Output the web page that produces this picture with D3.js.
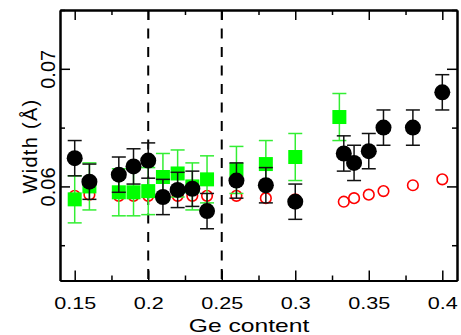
<!DOCTYPE html>
<html>
<head>
<meta charset="utf-8">
<script src="https://cdn.jsdelivr.net/npm/d3@7"></script>
<style>
  body { margin: 0; background: #fff; }
  svg text { font-family: "Liberation Sans", Arial, sans-serif; fill: #000; }
</style>
</head>
<body>
<div id="grafico"></div>
<script>
// Ge content (x) and width (y) for the three series
const blackX = [0.15, 0.16, 0.18, 0.19, 0.20, 0.21, 0.22, 0.23, 0.24, 0.26, 0.28, 0.30, 0.333, 0.34, 0.35, 0.36, 0.38, 0.40];
const blackY = [0.0624, 0.0604, 0.0610, 0.0617, 0.0622, 0.0591, 0.0597, 0.0598, 0.0579, 0.0605, 0.0601, 0.0587, 0.0628, 0.0620, 0.0630, 0.0650, 0.0650, 0.0680];
const blackErr = [0.0015, 0.0015, 0.0015, 0.0015, 0.0015, 0.0015, 0.0015, 0.0015, 0.0015, 0.0015, 0.0015, 0.0015, 0.0015, 0.0015, 0.0015, 0.0015, 0.0015, 0.0015];

const greenX = [0.15, 0.16, 0.18, 0.19, 0.20, 0.21, 0.22, 0.23, 0.24, 0.26, 0.28, 0.30, 0.33];
const greenY = [0.0589, 0.0600, 0.0595, 0.0595, 0.0596, 0.0608, 0.0611, 0.0600, 0.0606, 0.0614, 0.0619, 0.0625, 0.0659];
const greenErr = [0.002, 0.002, 0.002, 0.002, 0.002, 0.002, 0.002, 0.002, 0.002, 0.002, 0.002, 0.002, 0.002];

const redX = [0.15, 0.16, 0.18, 0.19, 0.20, 0.21, 0.22, 0.23, 0.24, 0.26, 0.28, 0.30, 0.333, 0.34, 0.35, 0.36, 0.38, 0.40];
const redY = [0.0592, 0.0593, 0.0592, 0.0592, 0.0592, 0.0592, 0.0592, 0.0592, 0.0592, 0.0592, 0.0590, 0.0589, 0.0587, 0.0590, 0.0593, 0.0596, 0.0601, 0.0606];

const dashedX = [0.20, 0.25];
const xMajor = [0.15, 0.2, 0.25, 0.3, 0.35, 0.4];
const xMinor = [0.175, 0.225, 0.275, 0.325, 0.375];
const yMajor = [0.06, 0.07];
const yMinor = [0.055, 0.065, 0.075];

const margin = { top: 10, right: 4, bottom: 54.5, left: 60 };
const width = 461 - margin.left - margin.right;
const height = 335 - margin.top - margin.bottom;

const svg = d3.select('#grafico').append('svg')
  .attr('width', 461)
  .attr('height', 335)
  .append('g')
  .attr('transform', `translate(${margin.left},${margin.top})`);

const x = d3.scaleLinear().domain([0.14, 0.41]).range([0, width]);
const y = d3.scaleLinear().domain([0.052, 0.075]).range([height, 0]);

// dashed guides
svg.selectAll('.guia')
  .data(dashedX)
  .enter().append('line')
  .attr('x1', d => x(d)).attr('x2', d => x(d))
  .attr('y1', 0).attr('y2', height)
  .attr('stroke', '#000')
  .attr('stroke-width', 2)
  .attr('stroke-dasharray', '10,8.5');

// red open circles
svg.selectAll('.rojo')
  .data(redX.map((d, i) => ({ x: d, y: redY[i] })))
  .enter().append('circle')
  .attr('cx', d => x(d.x))
  .attr('cy', d => y(d.y))
  .attr('r', 5.3)
  .attr('fill', 'none')
  .attr('stroke', '#ff0000')
  .attr('stroke-width', 1.6);

function errorBars(xs, ys, errs, color, cap) {
  const g = svg.append('g').attr('stroke', color).attr('stroke-width', 1.5);
  xs.forEach((d, i) => {
    const cx = x(d), top = y(ys[i] + errs[i]), bot = y(ys[i] - errs[i]);
    g.append('line').attr('x1', cx).attr('x2', cx).attr('y1', top).attr('y2', bot);
    g.append('line').attr('x1', cx - cap).attr('x2', cx + cap).attr('y1', top).attr('y2', top);
    g.append('line').attr('x1', cx - cap).attr('x2', cx + cap).attr('y1', bot).attr('y2', bot);
  });
}

// green squares
errorBars(greenX, greenY, greenErr, '#33ee33', 7);
svg.selectAll('.verde')
  .data(greenX.map((d, i) => ({ x: d, y: greenY[i] })))
  .enter().append('rect')
  .attr('x', d => x(d.x) - 7)
  .attr('y', d => y(d.y) - 7)
  .attr('width', 14)
  .attr('height', 14)
  .attr('fill', '#00ff00');

// black filled circles
errorBars(blackX, blackY, blackErr, '#111', 7);
svg.selectAll('.negro')
  .data(blackX.map((d, i) => ({ x: d, y: blackY[i] })))
  .enter().append('circle')
  .attr('cx', d => x(d.x))
  .attr('cy', d => y(d.y))
  .attr('r', 8)
  .attr('fill', '#000');

// frame + ticks (all pointing inward)
function ejes(axis, transform, vals, size, labels) {
  const a = svg.append('g')
    .attr('transform', transform)
    .call(axis.tickValues(vals).tickSize(-size).tickSizeOuter(0).tickFormat(labels ? d3.format('') : ''));
  a.select('.domain').attr('stroke-width', 2);
  a.selectAll('.tick line').attr('stroke-width', 1.5);
  return a;
}

const xAxis = ejes(d3.axisBottom(x), `translate(0,${height})`, xMajor, 10, true);
xAxis.selectAll('text')
  .attr('y', 17.5)
  .attr('dy', '0.71em')
  .attr('transform', 'scale(1.35,1)')
  .style('font-size', '16px');
ejes(d3.axisBottom(x), `translate(0,${height})`, xMinor, 5, false);
ejes(d3.axisTop(x), 'translate(0,0)', xMajor, 10, false);
ejes(d3.axisTop(x), 'translate(0,0)', xMinor, 5, false);

const yAxis = ejes(d3.axisLeft(y), 'translate(0,0)', yMajor, 10, true);
yAxis.selectAll('text')
  .attr('x', 0).attr('y', 0).attr('dy', 0)
  .attr('text-anchor', 'middle')
  .attr('transform', 'translate(-5,0) rotate(-90)')
  .style('font-size', '20px');
ejes(d3.axisLeft(y), 'translate(0,0)', yMinor, 5, false);
ejes(d3.axisRight(y), `translate(${width},0)`, yMajor, 10, false);
ejes(d3.axisRight(y), `translate(${width},0)`, yMinor, 5, false);

// axis titles
svg.append('text')
  .attr('transform', `translate(${189},${height + 51}) scale(1.37,1)`)
  .attr('text-anchor', 'middle')
  .style('font-size', '18px')
  .text('Ge content');

svg.append('text')
  .attr('transform', `translate(${-23},${136}) rotate(-90)`)
  .attr('text-anchor', 'middle')
  .style('font-size', '20px')
  .style('letter-spacing', '1.3px')
  .text('Width (Å)');
</script>
</body>
</html>
